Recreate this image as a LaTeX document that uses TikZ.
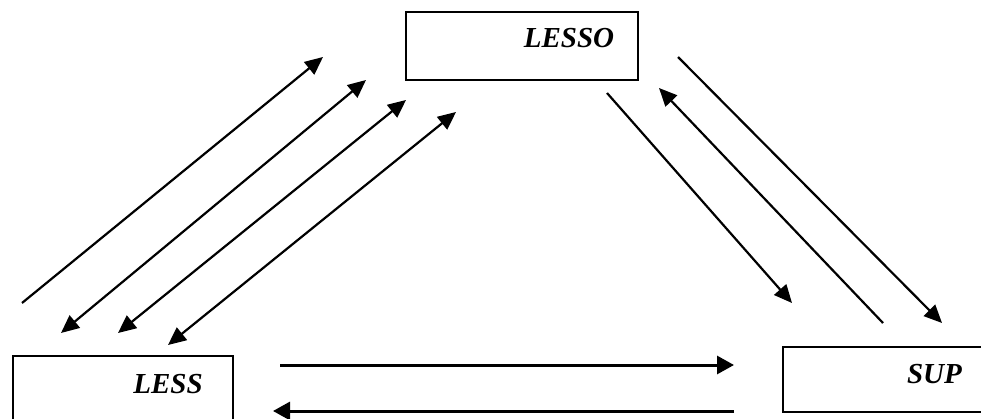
\documentclass[tikz,border=0pt]{standalone}
\usepackage{fontspec}
\setmainfont{Liberation Serif}
\usetikzlibrary{arrows.meta}
\tikzset{
  box/.style={draw=black, line width=2pt, rectangle, inner sep=0pt, anchor=north west},
  lbl/.style={inner sep=0pt, font=\fontsize{29}{30}\selectfont\bfseries\itshape},
  diag/.style={line width=2.2pt, arrows={-Triangle[length=18pt,width=16pt]}},
  diagb/.style={line width=2.2pt, arrows={Triangle[length=18pt,width=16pt]-Triangle[length=18pt,width=16pt]}},
  horiz/.style={line width=3pt, arrows={-Triangle[length=17pt,width=18pt]}}
}
\begin{document}
\begin{tikzpicture}[x=1pt,y=-1pt]
\useasboundingbox (0,0) rectangle (981,419);
\clip (0,0) rectangle (981,419);
% boxes
\node[box, minimum width=232pt, minimum height=68pt] (lesso) at (405,11) {};
\node[lbl] (lessot) at (569,38.5) {LESSO};
\node[box, minimum width=220pt, minimum height=90pt] (less) at (12,355) {};
\node[lbl] (lesst) at (168,384) {LESS};
\node[box, minimum width=240pt, minimum height=65pt] (sup) at (782,346) {};
\node[lbl] (supt) at (934.5,374) {SUP};
% left diagonal connector ends
\coordinate (l1a) at (22,303);  \coordinate (l1b) at (323,57);
\coordinate (l2a) at (61,333);  \coordinate (l2b) at (366,80);
\coordinate (l3a) at (118,333); \coordinate (l3b) at (406,100);
\coordinate (l4a) at (168,345); \coordinate (l4b) at (456,112);
% right diagonal connector ends
\coordinate (r1a) at (607,93);  \coordinate (r1b) at (792,303);
\coordinate (r2a) at (883,323); \coordinate (r2b) at (659,88);
\coordinate (r3a) at (678,57);  \coordinate (r3b) at (942,323);
% horizontal connector ends
\coordinate (h1a) at (280,365); \coordinate (h1b) at (734,365);
\coordinate (h2a) at (734,411); \coordinate (h2b) at (273,411);
% connectors
\draw[diag]  (l1a) -- (l1b);
\draw[diagb] (l2a) -- (l2b);
\draw[diagb] (l3a) -- (l3b);
\draw[diagb] (l4a) -- (l4b);
\draw[diag]  (r1a) -- (r1b);
\draw[diag]  (r2a) -- (r2b);
\draw[diag]  (r3a) -- (r3b);
\draw[horiz] (h1a) -- (h1b);
\draw[horiz] (h2a) -- (h2b);
\end{tikzpicture}
\end{document}
